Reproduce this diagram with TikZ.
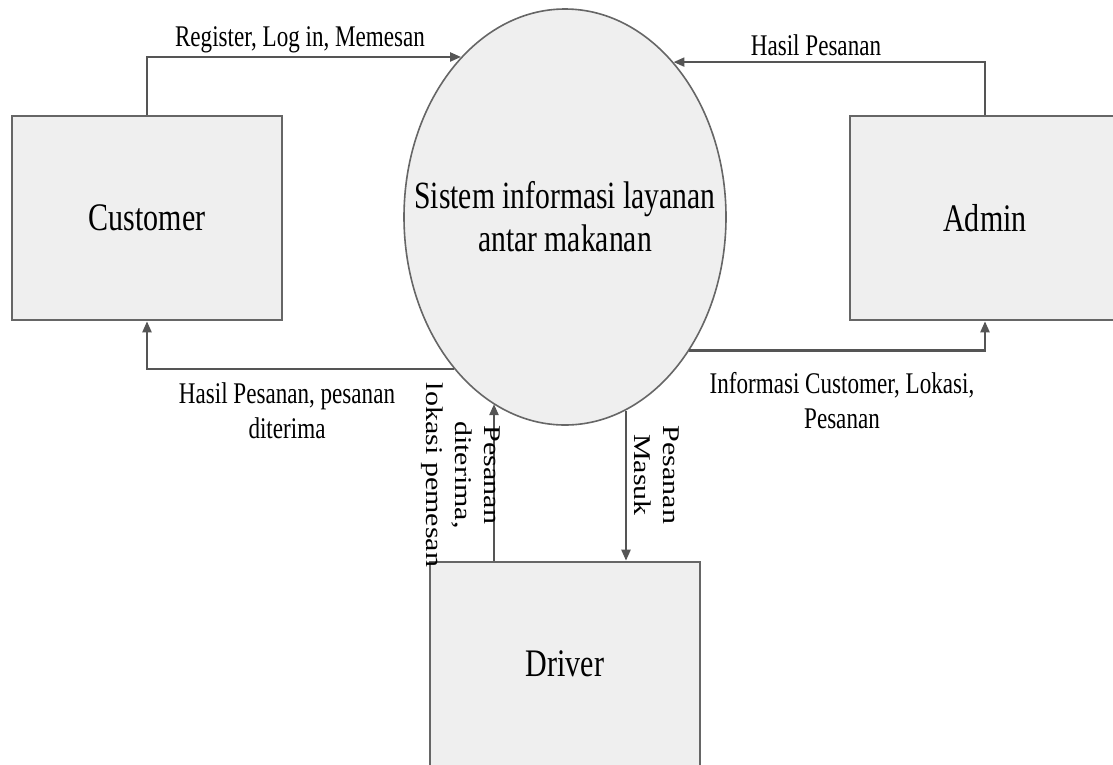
\documentclass[tikz,border=0pt]{standalone}
\usepackage{fontspec}
\usepackage{graphicx}
\setmainfont{Liberation Serif}
\newfontfamily\sqfont[FakeStretch=0.77]{Liberation Serif}
\usetikzlibrary{shapes.geometric,arrows.meta,calc}
\definecolor{boxfill}{HTML}{EFEFEF}
\definecolor{boxline}{HTML}{666666}
\definecolor{flowline}{HTML}{555555}
\begin{document}
\begin{tikzpicture}[x=1pt,y=-1pt,
  box/.style={draw=boxline, line width=2.6pt, fill=boxfill, minimum width=270pt, minimum height=204pt, inner sep=0pt, font=\sqfont\fontsize{39}{45}\selectfont},
  proc/.style={ellipse, draw=boxline, line width=1.6pt, fill=boxfill, minimum width=322pt, minimum height=416pt, inner ysep=0pt, inner xsep=-50pt, align=center, font=\sqfont\fontsize{38.5}{43}\selectfont},
  flow/.style={draw=flowline, line width=2.2pt, -{Triangle[length=11pt,width=9pt]}},
  lbl/.style={font=\sqfont\fontsize{30}{35}\selectfont, align=center, inner sep=0pt},
  vlbl/.style={rotate=-90, inner sep=0pt},
]
\useasboundingbox (0,0) rectangle (1113,764);
\clip (0,0) rectangle (1113,764);

\node[box] (cust) at (147,218) {Customer};
\node[box] (admin) at (985,218) {Admin};
\node[box] (drv) at (565,664) {Driver};
\node[proc] (sys) at (565,217) {Sistem informasi layanan\\antar makanan};

\draw[flow] (cust.north) |- (sys.123.5);
\draw[flow] (admin.north) |- (sys.55.5);
\draw[flow] (sys.234.5) -| (cust.south);
\draw[flow] (sys.313) -| (admin.south);
\coordinate (pu) at ($(drv.north)+(-71,0)$);
\coordinate (pd) at ($(drv.north)+(61,0)$);
\draw[flow] (pu) -- (pu |- sys.249.5);
\draw[flow] (pd |- sys.287.3) -- (pd);

\node[lbl, anchor=base] (l1) at (300,46) {Register, Log in, Memesan};
\node[lbl, anchor=base] (l2) at (816,55) {Hasil Pesanan};
\node[lbl] (l3) at (287,411) {Hasil Pesanan, pesanan\\diterima};
\node[lbl] (l4) at (842,401) {Informasi Customer, Lokasi,\\Pesanan};

\node[vlbl] (v1) at (461,475) {\fontsize{30}{36}\selectfont\scalebox{1}[0.8]{\begin{tabular}{@{}c@{}}Pesanan\\diterima,\\lokasi pemesan\end{tabular}}};
\node[vlbl] (v2) at (655,475) {\fontsize{30}{36}\selectfont\scalebox{1}[0.8]{\begin{tabular}{@{}c@{}}Pesanan\\Masuk\end{tabular}}};
\end{tikzpicture}
\end{document}
